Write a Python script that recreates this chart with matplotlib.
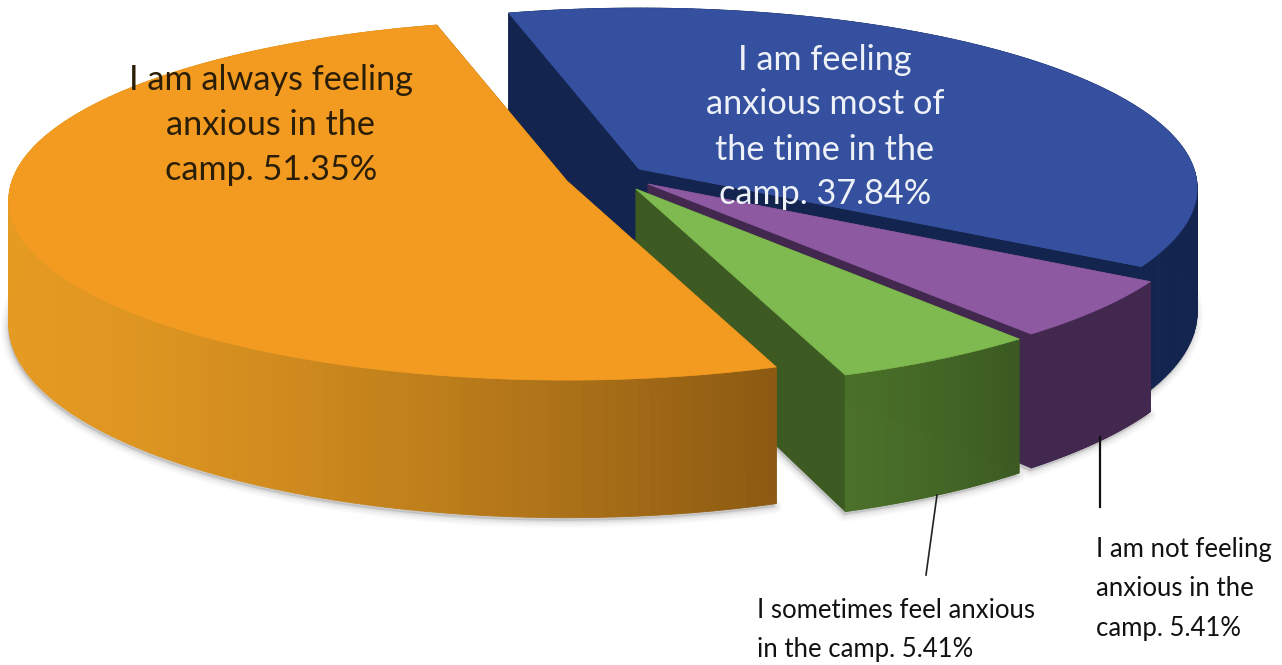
import numpy as np
import matplotlib
matplotlib.use("Agg")
import matplotlib.pyplot as plt
from matplotlib.patches import Polygon
from matplotlib.collections import PolyCollection
from matplotlib.colors import to_rgb

# ---- data (clockwise, starting from the blue slice)
labels = ["I am feeling\nanxious most of\nthe time in the\ncamp. 37.84%",
          "I am not feeling\nanxious in the\ncamp. 5.41%",
          "I sometimes feel anxious\nin the camp. 5.41%",
          "I am always feeling\nanxious in the\ncamp. 51.35%"]
values = [37.84, 5.41, 5.41, 51.35]

# ---- styling
top_colors = ["#34509F", "#8D5AA2", "#7FBA50", "#F29B20"]
wall_left = ["#13244F", "#42284F", "#4A7029", "#E59A22"]
wall_right = ["#13244F", "#42284F", "#3C5A22", "#8C5A12"]
cut_colors = ["#13244F", "#42284F", "#3C5A22", "#8C5A12"]
apexes = [(639, 169), (648, 184), (636, 189), (567, 181)]

# ---- projection of the tilted disc
RX, RY, K, H = 555.0, 178.0, 0.106, 123.0
START = -15.0


def project(theta_deg, r, apex, drop=0.0):
    t = np.radians(theta_deg)
    u, v = r * np.sin(t), r * np.cos(t)
    s = 1.0 / (1.0 + K * v)
    return apex[0] + RX * u * s, apex[1] - RY * v * s + drop * s


fig = plt.figure(figsize=(12.82, 6.65), dpi=100)
ax = fig.add_axes([0, 0, 1, 1])
ax.set_xlim(0, 1282)
ax.set_ylim(665, 0)
ax.axis("off")

edges = START + np.concatenate([[0], np.cumsum(values)]) / sum(values) * 360.0
arcs = [np.linspace(a, b, 181) for a, b in zip(edges[:-1], edges[1:])]


def rim(i, drop=0.0):
    return np.column_stack(project(arcs[i], 1.0, apexes[i], drop))


# soft shadow beneath the slices
for i in range(len(values)):
    base = np.vstack([[apexes[i][0], apexes[i][1] + H], rim(i, H)])
    for lw, alpha in ((10, 0.035), (7, 0.05), (4, 0.07), (2, 0.08)):
        ax.add_patch(Polygon(base + [-1, 3], closed=True, fc="#666666", ec="#666666",
                             lw=lw, alpha=alpha, joinstyle="round", zorder=1))

# slices, back to front
for z, i in enumerate(range(len(values))):
    zb = 2 + 3 * z
    r_pts = rim(i)
    b_pts = rim(i, H)
    a = np.array(apexes[i], float)
    # cut faces along both radial edges
    for k in (0, -1):
        face = [a, r_pts[k], b_pts[k], a + [0, H]]
        ax.add_patch(Polygon(face, closed=True, fc=cut_colors[i], ec=cut_colors[i],
                             lw=0.5, zorder=zb))
    # outer wall, shaded from left to right
    quads, cols = [], []
    c0, c1 = np.array(to_rgb(wall_left[i])), np.array(to_rgb(wall_right[i]))
    xs = r_pts[:, 0]
    lo, hi = xs.min(), xs.max()
    for j in range(len(r_pts) - 1):
        quads.append([r_pts[j], r_pts[j + 1], b_pts[j + 1], b_pts[j]])
        f = ((xs[j] - lo) / max(hi - lo, 1)) ** 1.4
        cols.append(c0 + (c1 - c0) * f)
    ax.add_collection(PolyCollection(quads, facecolors=cols, edgecolors=cols,
                                     linewidths=0.6, zorder=zb + 1))
    # top face
    ax.add_patch(Polygon(np.vstack([a, r_pts]), closed=True, fc=top_colors[i],
                         ec=top_colors[i], lw=0.5, zorder=zb + 2))

# leader lines
ax.plot([1100, 1100], [437, 507], color="#111111", lw=1.6, zorder=30)
ax.plot([937, 926], [495, 575], color="#222222", lw=1.2, zorder=30)

# labels
font = "Lato"
ax.text(271, 125, labels[3], color="#2B1E08", fontsize=24.7, family=font,
        ha="center", va="center", linespacing=1.49, zorder=40)
ax.text(825, 127, labels[0], color="#EEF1F8", fontsize=24.7, family=font,
        ha="center", va="center", linespacing=1.5, zorder=40)
ax.text(757, 630, labels[2], color="#111111", fontsize=18.5, family=font,
        ha="left", va="center", linespacing=1.75, zorder=40)
ax.text(1096, 589, labels[1], color="#111111", fontsize=18.5, family=font,
        ha="left", va="center", linespacing=1.72, zorder=40)

fig.savefig("out.png", dpi=100)
